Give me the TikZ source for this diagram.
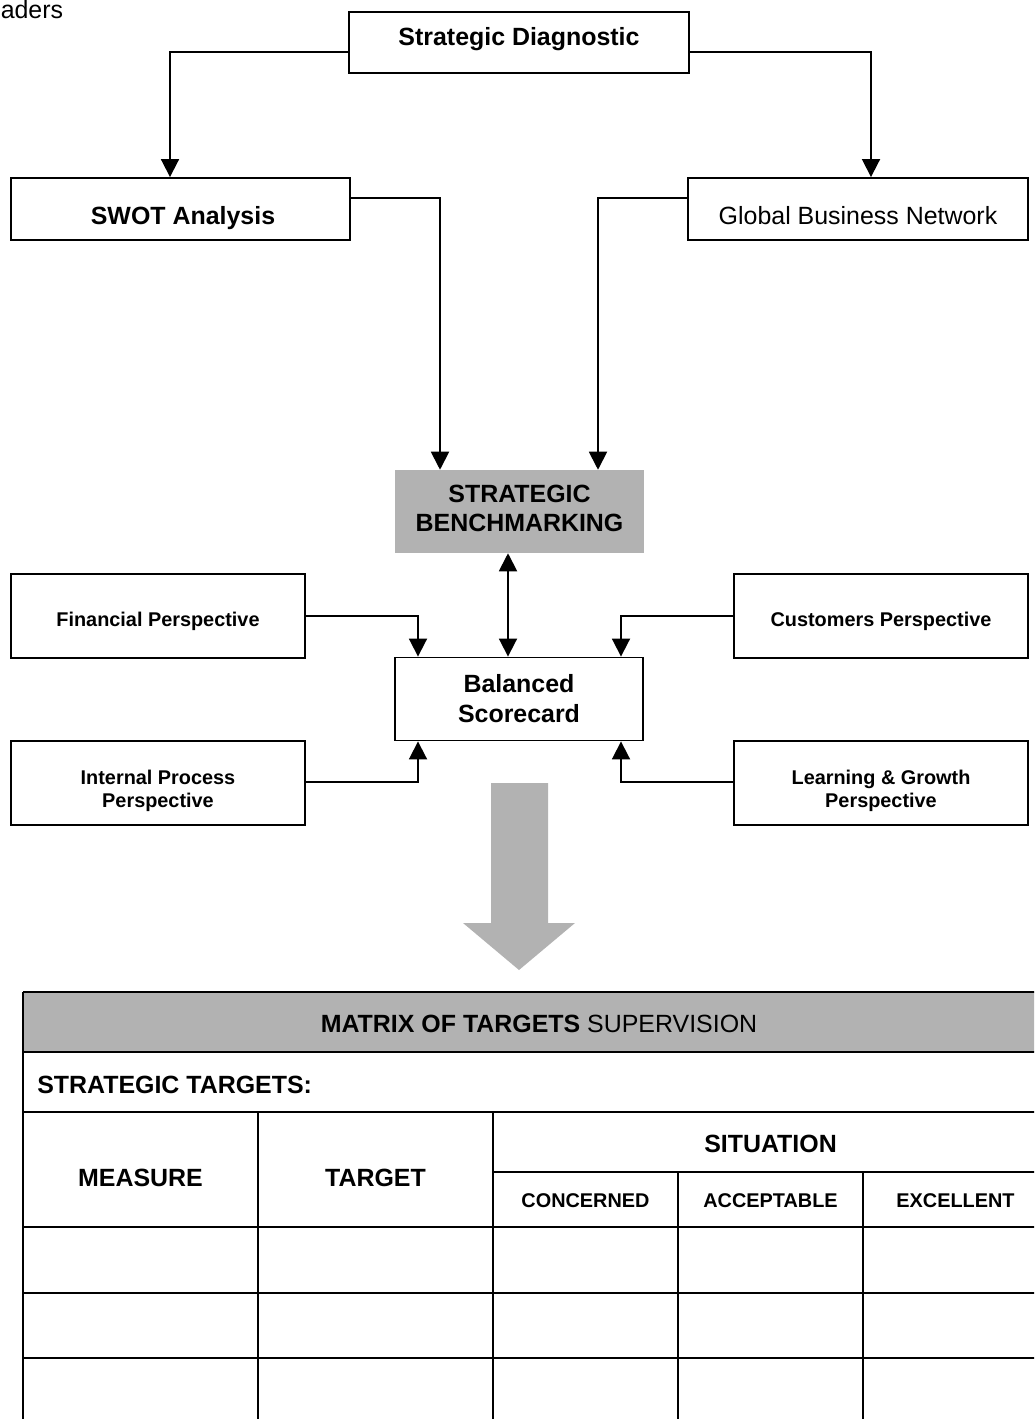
\documentclass[tikz,border=0pt]{standalone}
\usepackage{fontspec}
\setmainfont{Liberation Sans}
\usetikzlibrary{arrows.meta}
\definecolor{midgray}{HTML}{B2B2B2}

\begin{document}
\begin{tikzpicture}[x=0.75pt,y=-0.75pt,
  box/.style={draw, line width=1.4pt, inner sep=0pt},
  sz/.style 2 args={minimum width=#1*0.75pt, minimum height=#2*0.75pt},
  graybox/.style={fill=midgray, inner sep=0pt},
  bigb/.style={font=\fontsize{18.7pt}{22pt}\selectfont\bfseries, anchor=base, inner sep=0pt},
  bigr/.style={font=\fontsize{18.7pt}{22pt}\selectfont, anchor=base, inner sep=0pt},
  smallb/.style={font=\fontsize{14.9pt}{18pt}\selectfont\bfseries, anchor=base, inner sep=0pt},
  conn/.style={line width=1.4pt},
  arr/.style={conn, -{Triangle[width=13.5pt,length=13.5pt]}},
  dblarr/.style={conn, {Triangle[width=13.5pt,length=13.5pt]}-{Triangle[width=13.5pt,length=13.5pt]}},
  thick rule/.style={line width=2.2pt},
  thin rule/.style={line width=1.4pt}]
\useasboundingbox (0,0) rectangle (1034,1419);
\clip (0,0) rectangle (1034,1419);

% heading fragment at the top edge
\node[bigr, anchor=base west] (hdr) at (0.5,19) {aders};

% upper boxes
\node[box, sz={340}{61}] (sd) at (519,42.5) {};
\node[bigb] (sd-t) at (519,46) {Strategic Diagnostic};
\node[box, sz={339}{62}] (swot) at (180.5,209) {};
\node[bigb] (swot-t) at (183,225) {SWOT Analysis};
\node[box, sz={340}{62}] (gbn) at (858,209) {};
\node[bigr] (gbn-t) at (858,225) {Global Business Network};

% benchmarking and scorecard
\node[graybox, sz={249}{83}] (bm) at (519.5,511.5) {};
\node[bigb] (bm-t1) at (519.5,502) {STRATEGIC};
\node[bigb] (bm-t2) at (519.5,531) {BENCHMARKING};
\node[box, sz={248}{83}] (bs) at (519,699) {};
\node[bigb] (bs-t1) at (519,692) {Balanced};
\node[bigb] (bs-t2) at (519,722) {Scorecard};

% perspectives
\node[box, sz={294}{84}] (fin) at (158,616) {};
\node[smallb] (fin-t) at (158,626) {Financial Perspective};
\node[box, sz={294}{84}] (cus) at (881,616) {};
\node[smallb] (cus-t) at (881,626) {Customers Perspective};
\node[box, sz={294}{84}] (ipp) at (158,783) {};
\node[smallb] (ipp-t1) at (158,784) {Internal Process};
\node[smallb] (ipp-t2) at (158,807) {Perspective};
\node[box, sz={294}{84}] (lgp) at (881,783) {};
\node[smallb] (lgp-t1) at (881,784) {Learning \& Growth};
\node[smallb] (lgp-t2) at (881,807) {Perspective};

% connectors
\draw[arr] (sd.west |- 0,52) -| (swot.north -| 170,0);
\draw[arr] (sd.east |- 0,52) -| (gbn.north -| 871,0);
\draw[arr] (swot.east |- 0,198) -| (bm.north -| 440,0);
\draw[arr] (gbn.west |- 0,198) -| (bm.north -| 598,0);
\draw[dblarr] (bm.south -| 508,0) -- (bs.north -| 508,0);
\draw[arr] (fin.east |- 0,616) -| (bs.north -| 418,0);
\draw[arr] (cus.west |- 0,616) -| (bs.north -| 621,0);
\draw[arr] (ipp.east |- 0,782) -| (bs.south -| 418,0);
\draw[arr] (lgp.west |- 0,782) -| (bs.south -| 621,0);

% broad downward arrow
\fill[midgray] (491,783) -- (548,783) -- (548,923) -- (575,923) -- (519,970)
  -- (463,923) -- (491,923) -- cycle;

% matrix of targets table
\fill[midgray] (23,992) rectangle (1048,1052);
\draw[thick rule] (23,992) -- (1048,992);
\draw[thick rule] (23,1052) -- (1048,1052);
\draw[thin rule] (23,1112) -- (1048,1112);
\draw[thick rule] (493,1172) -- (1048,1172);
\draw[thin rule] (23,1227) -- (1048,1227);
\draw[thin rule] (23,1293) -- (1048,1293);
\draw[thin rule] (23,1358) -- (1048,1358);
\draw[thin rule] (23,992) -- (23,1430);
\draw[thick rule] (258,1112) -- (258,1430);
\draw[thin rule] (493,1112) -- (493,1430);
\draw[thick rule] (678,1172) -- (678,1430);
\draw[thick rule] (863,1172) -- (863,1430);
\draw[thin rule] (1048,992) -- (1048,1430);

\node[bigr] (mx-t) at (539,1032) {\textbf{MATRIX OF TARGETS} SUPERVISION};
\node[bigb, anchor=base west] (st-t) at (37,1093) {STRATEGIC TARGETS:};
\node[bigb] (ms-t) at (140.5,1186) {MEASURE};
\node[bigb] (tg-t) at (375.5,1186) {TARGET};
\node[bigb] (si-t) at (770.5,1152) {SITUATION};
\node[smallb] (cn-t) at (585.5,1207) {CONCERNED};
\node[smallb] (ac-t) at (770.5,1207) {ACCEPTABLE};
\node[smallb] (ex-t) at (955.5,1207) {EXCELLENT};
\end{tikzpicture}
\end{document}
